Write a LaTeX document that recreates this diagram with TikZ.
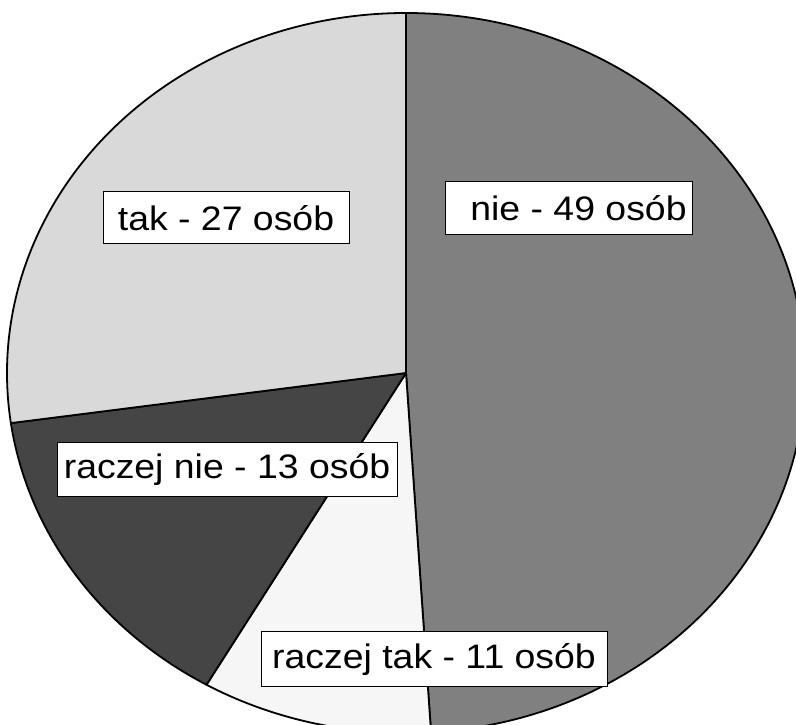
\documentclass[tikz,border=0pt]{standalone}
\usepackage{fontspec}
\setmainfont{Liberation Sans}[FakeStretch=1.1]
\usepackage{tikz}

\definecolor{sliceNie}{gray}{0.50}
\definecolor{sliceRaczejTak}{gray}{0.965}
\definecolor{sliceRaczejNie}{gray}{0.27}
\definecolor{sliceTak}{gray}{0.85}

\begin{document}
\begin{tikzpicture}[x=1pt, y=1pt,
    label box/.style={draw=black, fill=white, line width=1pt, inner sep=0pt,
        font=\fontsize{34}{40}\selectfont}]
    \useasboundingbox (0,0) rectangle (796,725);
    \clip (0,0) rectangle (796,725);
    \fill[white] (0,0) rectangle (796,725);
    \coordinate (centre) at (406,352);

    % the four slices, clockwise from the top
    \foreach \from/\to/\shade in {90/-86.4/sliceNie, -86.4/-120/sliceRaczejTak,
                                  -120/-172/sliceRaczejNie, -172/-270/sliceTak}
        \filldraw[fill=\shade, draw=black, line width=1.8pt, line join=round]
            (centre) -- ++(\from:399pt and 360pt)
            arc[start angle=\from, end angle=\to, x radius=399pt, y radius=360pt] -- cycle;

    %\draw (centre) ellipse (399pt and 360pt);
    \node[label box, minimum width=246pt, minimum height=52pt] (tak) at (226,507) {tak - 27 osób};
    \node[label box, minimum width=247pt, minimum height=53pt] (nie) at (568.5,516.5) {\hspace*{20pt}nie - 49 osób};
    \node[label box, minimum width=340pt, minimum height=54pt] (raczejNie) at (227,255) {raczej nie - 13 osób};
    \node[label box, minimum width=346pt, minimum height=55pt] (raczejTak) at (434,65.5) {raczej tak - 11 osób};
\end{tikzpicture}
\end{document}
